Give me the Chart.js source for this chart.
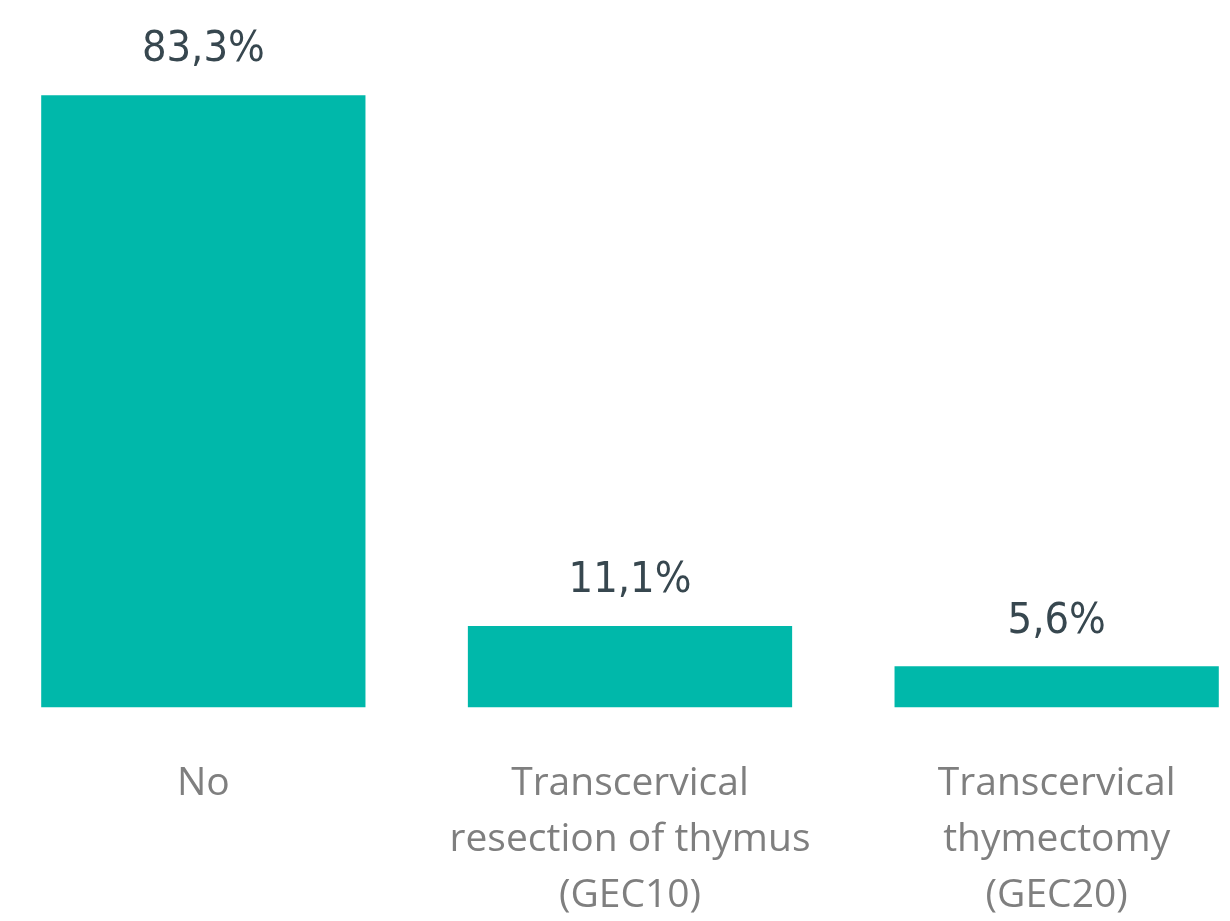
<!DOCTYPE html>
<html lang="en">
<head>
  <meta charset="UTF-8" />
  <title>Thymus procedure</title>
  <script src="https://cdn.jsdelivr.net/npm/chart.js"></script>
  <style>
    body {
      margin: 0;
      background: #ffffff;
      overflow: hidden;
    }

    .wrap {
      position: relative;
      left: -10px;
      width: 1280px;
      height: 964px;
    }
  </style>
</head>
<body>
  <div class="wrap">
    <canvas id="barChart"></canvas>
  </div>

  <script>
    const categories = [
      ["No"],
      ["Transcervical", "resection of thymus", "(GEC10)"],
      ["Transcervical", "thymectomy", "(GEC20)"]
    ];
    const shares = [83.3, 11.1, 5.6];

    // percentage above each bar, decimal comma like the original
    const valueLabels = {
      id: "valueLabels",
      afterDatasetsDraw(chart) {
        const ctx = chart.ctx;
        const meta = chart.getDatasetMeta(0);
        ctx.save();
        ctx.font = "43px 'DejaVu Sans Condensed'";
        ctx.fillStyle = "#37474f";
        ctx.textAlign = "center";
        ctx.textBaseline = "middle";
        meta.data.forEach((bar, i) => {
          const txt = shares[i].toFixed(1).replace(".", ",") + "%";
          ctx.fillText(txt, bar.x, bar.y - 45);
        });
        ctx.restore();
      }
    };

    new Chart(document.getElementById("barChart"), {
      type: "bar",
      data: {
        labels: categories,
        datasets: [{
          data: shares,
          backgroundColor: "#00b8aa",
          categoryPercentage: 1,
          barPercentage: 0.76
        }]
      },
      options: {
        responsive: true,
        maintainAspectRatio: false,
        animation: false,
        layout: {
          padding: { top: 46, left: 0, right: 0, bottom: 0 }
        },
        plugins: {
          legend: { display: false },
          tooltip: { enabled: false }
        },
        scales: {
          x: {
            grid: { display: false },
            border: { display: false },
            ticks: {
              color: "#7f7f7f",
              padding: 40,
              maxRotation: 0,
              autoSkip: false,
              font: { family: "'Open Sans'", size: 39, lineHeight: 1.44 }
            }
          },
          y: {
            display: false,
            min: 0,
            max: 90
          }
        }
      },
      plugins: [valueLabels]
    });
  </script>
</body>
</html>
